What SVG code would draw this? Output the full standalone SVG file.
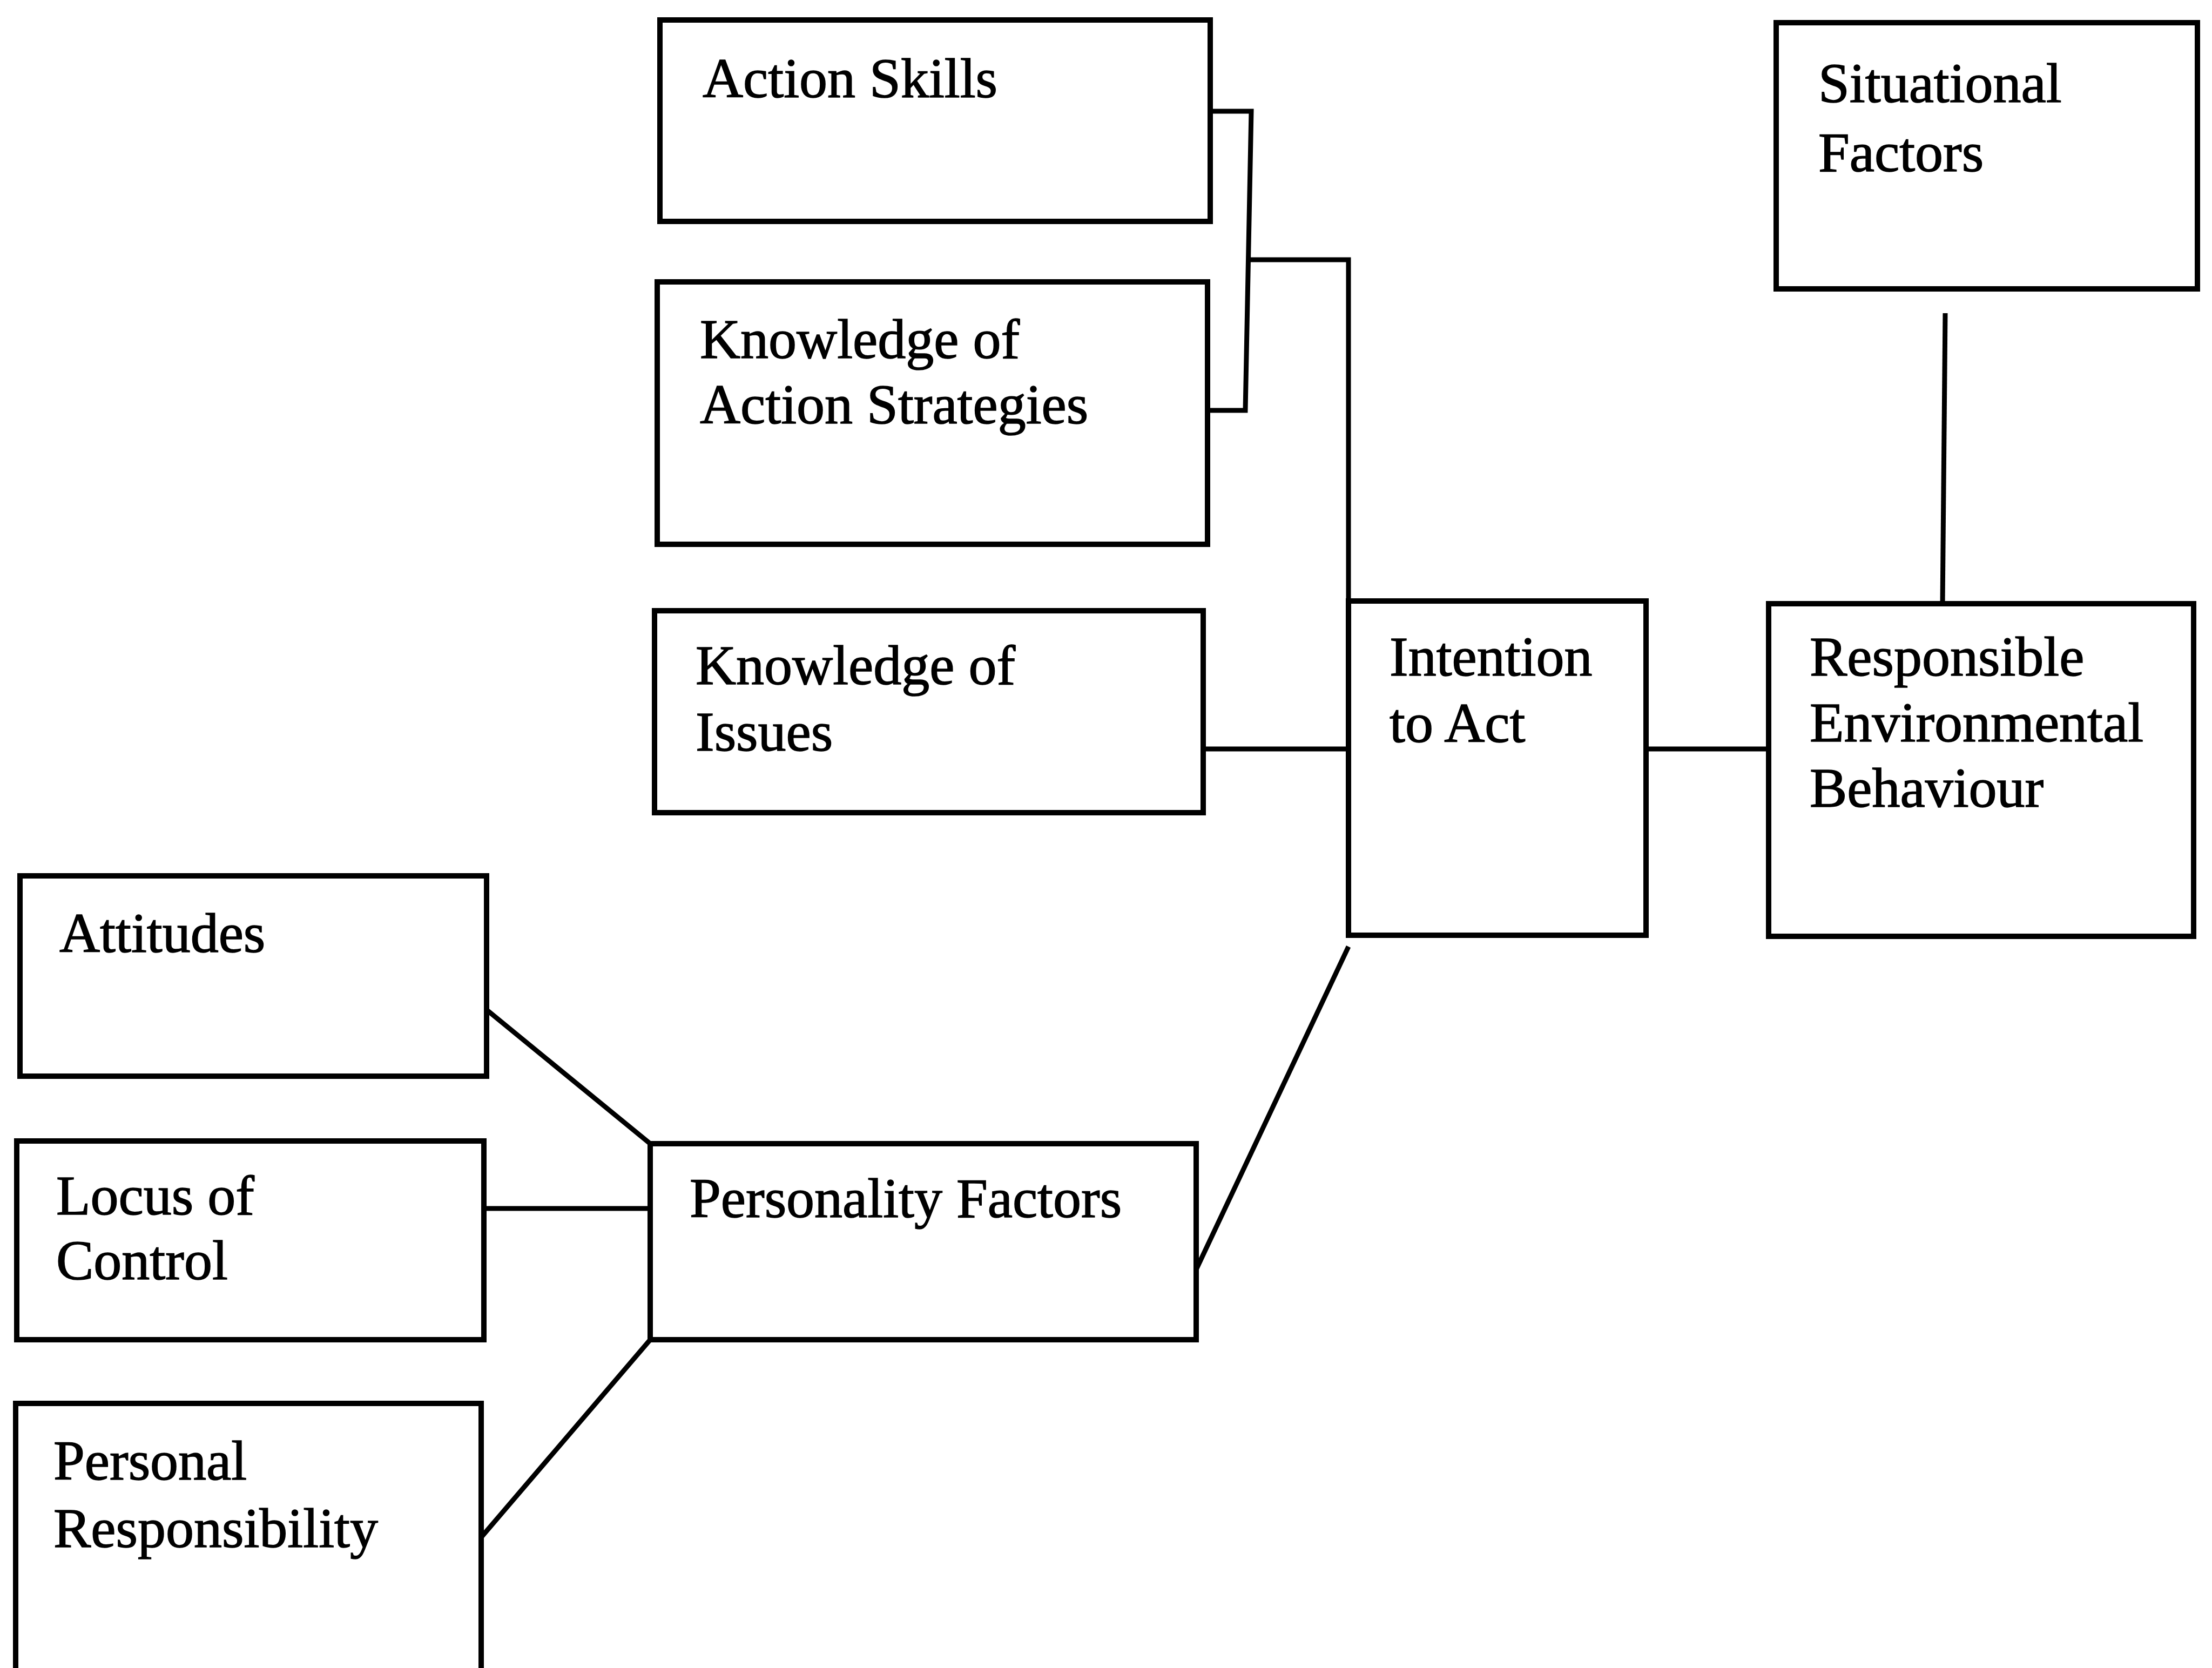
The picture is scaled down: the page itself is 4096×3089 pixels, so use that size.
<svg xmlns="http://www.w3.org/2000/svg" width="4096" height="3089" viewBox="0 0 4096 3089">
  <style>
    .box { fill: #ffffff; stroke: #000000; stroke-width: 10; }
    .lbl { font-family: "Liberation Serif", "Times New Roman", serif; font-size: 104px; fill: #000000; stroke: #000000; stroke-width: 1.5; }
    .wire { fill: none; stroke: #000000; stroke-width: 9; stroke-linejoin: miter; }
  </style>
  <rect x="0" y="0" width="4096" height="3089" fill="#ffffff"/>

  <!-- connectors -->
  <g id="connectors">
    <polyline class="wire" points="2241,206 2317,206 2306,760 2236,760"/>
    <polyline class="wire" points="2312,481 2497,481 2497,1113"/>
    <line class="wire" x1="2228" y1="1387" x2="2497" y2="1387"/>
    <line class="wire" x1="3048" y1="1387" x2="3275" y2="1387"/>
    <line class="wire" x1="3602" y1="580" x2="3597" y2="1122"/>
    <line class="wire" x1="2215" y1="2351" x2="2497" y2="1753"/>
    <line class="wire" x1="901" y1="1870" x2="1204" y2="2118"/>
    <line class="wire" x1="896" y1="2238" x2="1204" y2="2238"/>
    <line class="wire" x1="891" y1="2847" x2="1204" y2="2481"/>
  </g>

  <!-- nodes -->
  <g id="action-skills">
    <rect class="box" x="1222" y="37" width="1019" height="373"/>
    <text class="lbl" x="1301" y="180">Action Skills</text>
  </g>
  <g id="knowledge-action-strategies">
    <rect class="box" x="1217" y="522" width="1019" height="486"/>
    <text class="lbl" x="1296" y="663">Knowledge of</text>
    <text class="lbl" x="1296" y="784">Action Strategies</text>
  </g>
  <g id="knowledge-issues">
    <rect class="box" x="1212" y="1131" width="1016" height="374"/>
    <text class="lbl" x="1288" y="1267">Knowledge of</text>
    <text class="lbl" x="1288" y="1390">Issues</text>
  </g>
  <g id="intention-to-act">
    <rect class="box" x="2497" y="1113" width="551" height="619"/>
    <text class="lbl" x="2573" y="1251">Intention</text>
    <text class="lbl" x="2573" y="1374">to Act</text>
  </g>
  <g id="responsible-behaviour">
    <rect class="box" x="3275" y="1118" width="787" height="616"/>
    <text class="lbl" x="3351" y="1251">Responsible</text>
    <text class="lbl" x="3351" y="1373">Environmental</text>
    <text class="lbl" x="3351" y="1494">Behaviour</text>
  </g>
  <g id="situational-factors">
    <rect class="box" x="3289" y="42" width="780" height="493"/>
    <text class="lbl" x="3367" y="189">Situational</text>
    <text class="lbl" x="3367" y="317">Factors</text>
  </g>
  <g id="attitudes">
    <rect class="box" x="37" y="1622" width="864" height="371"/>
    <text class="lbl" x="110" y="1763">Attitudes</text>
  </g>
  <g id="locus-of-control">
    <rect class="box" x="31" y="2113" width="865" height="368"/>
    <text class="lbl" x="104" y="2249">Locus of</text>
    <text class="lbl" x="104" y="2369">Control</text>
  </g>
  <g id="personal-responsibility">
    <rect class="box" x="29" y="2599" width="862" height="560"/>
    <text class="lbl" x="99" y="2740">Personal</text>
    <text class="lbl" x="99" y="2865">Responsibility</text>
  </g>
  <g id="personality-factors">
    <rect class="box" x="1204" y="2118" width="1011" height="363"/>
    <text class="lbl" x="1277" y="2254">Personality Factors</text>
  </g>
</svg>
